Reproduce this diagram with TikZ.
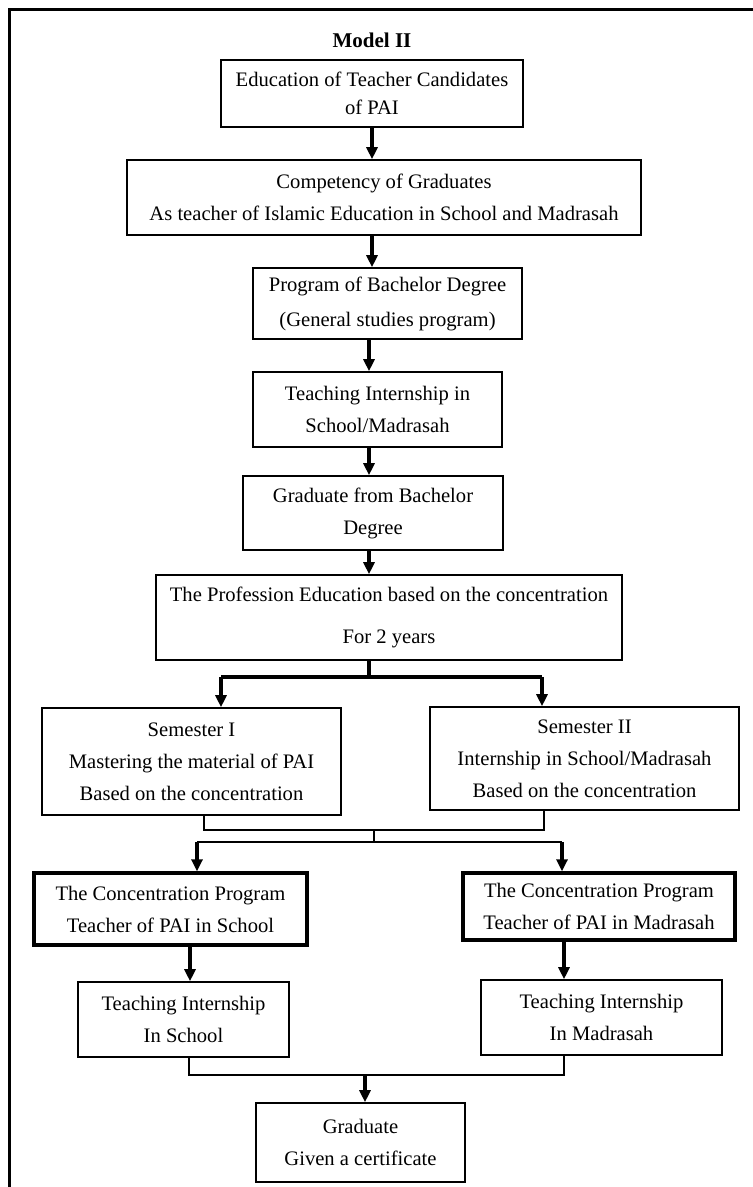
\documentclass[tikz,border=0pt]{standalone}
\usepackage{fontspec}
\setmainfont{Liberation Serif}
\usetikzlibrary{arrows.meta}
\tikzset{
  stagebox/.style={draw, line width=0.8pt, align=center, inner sep=2pt, font=\fontsize{10.3}{16}\selectfont},
  progbox/.style={stagebox, line width=1.7pt},
  flowarrow/.style={line width=1.6pt, -{Triangle[length=6pt,width=5.5pt]}},
  flowline/.style={line width=1.2pt},
}
\begin{document}
\begin{tikzpicture}[x=0.5pt,y=0.5pt,yscale=-1]
        \useasboundingbox (0,0) rectangle (753,1187);
        \clip (0,0) rectangle (753,1187);
        %Shape: Frame
        \draw [line width=1.5pt] (9,1200) -- (9,10) -- (770,10) ;

        % Text Node
        \node [font=\fontsize{10.5}{12}\selectfont\bfseries] (title) at (372,40) {Model II};

        %Shape: Rectangle
        \node [stagebox, minimum width=151pt, minimum height=33.5pt] (edu) at (372,93.5) {Education of Teacher Candidates\\[-2pt]of PAI};
        %Shape: Rectangle
        \node [stagebox, minimum width=257pt, minimum height=37.5pt] (comp) at (384,197.5) {Competency of Graduates\\As teacher of Islamic Education in School and Madrasah};
        %Shape: Rectangle
        \node [stagebox, minimum width=134.5pt, minimum height=35.5pt] (prog) at (387.5,303.5) {Program of Bachelor Degree\\[1.5pt](General studies program)};
        %Shape: Rectangle
        \node [stagebox, minimum width=124.5pt, minimum height=37.5pt] (intern) at (377.5,409.5) {Teaching Internship in\\School/Madrasah};
        %Shape: Rectangle
        \node [stagebox, minimum width=130pt, minimum height=37pt] (grad) at (373,513) {Graduate from Bachelor\\Degree};
        %Shape: Rectangle
        \node [stagebox, minimum width=233pt, minimum height=42.5pt] (prof) at (389,617.5) {The Profession Education based on the concentration\\[5pt]For 2 years};
        %Shape: Rectangle
        \node [stagebox, minimum width=149.5pt, minimum height=53.5pt] (sem1) at (191.5,761.5) {Semester I\\Mastering the material of PAI\\Based on the concentration};
        %Shape: Rectangle
        \node [stagebox, minimum width=154.5pt, minimum height=51.5pt] (sem2) at (584.5,758.5) {Semester II\\Internship in School/Madrasah\\Based on the concentration};
        %Shape: Rectangle
        \node [progbox, minimum width=136.5pt, minimum height=36pt] (concS) at (170.5,909) {The Concentration Program\\Teacher of PAI in School};
        %Shape: Rectangle
        \node [progbox, minimum width=136pt, minimum height=33.5pt] (concM) at (599,906.5) {The Concentration Program\\Teacher of PAI in Madrasah};
        %Shape: Rectangle
        \node [stagebox, minimum width=105.5pt, minimum height=37.5pt] (tiS) at (183.5,1019.5) {Teaching Internship\\In School};
        %Shape: Rectangle
        \node [stagebox, minimum width=120.5pt, minimum height=37.5pt] (tiM) at (601.5,1017.5) {Teaching Internship\\In Madrasah};
        %Shape: Rectangle
        \node [stagebox, minimum width=104.5pt, minimum height=39.5pt] (final) at (360.5,1142.5) {Graduate\\Given a certificate};

        %Straight Lines
        \coordinate (spine) at (369,0);
        \draw [flowarrow] (edu.south) -- (edu.south |- comp.north) ;
        \draw [flowarrow] (comp.south -| edu.south) -- (edu.south |- prog.north) ;
        \draw [flowarrow] (prog.south -| spine) -- (spine |- intern.north) ;
        \draw [flowarrow] (intern.south -| spine) -- (spine |- grad.north) ;
        \draw [flowarrow] (grad.south -| spine) -- (spine |- prof.north) ;

        %Straight Lines (fork to semesters)
        \coordinate (forkL) at (221,677);
        \coordinate (forkR) at (542,677);
        \draw [flowline, line width=1.6pt] (prof.south -| spine) -- (spine |- forkL) ;
        \draw [flowline, line width=1.6pt] (forkL) -- (forkR) ;
        \draw [flowarrow] (forkL) -- (forkL |- sem1.north) ;
        \draw [flowarrow] (forkR) -- (forkR |- sem2.north) ;

        %Straight Lines (semesters to concentration)
        \coordinate (joinL) at (204,830);
        \coordinate (joinR) at (544,830);
        \coordinate (joinM) at (374,830);
        \coordinate (splitL) at (197,842);
        \coordinate (splitR) at (562,842);
        \draw [flowline] (sem1.south -| joinL) -- (joinL) -- (joinR) -- (sem2.south -| joinR) ;
        \draw [flowline] (joinM) -- (joinM |- splitL) ;
        \draw [flowline] (splitL) -- (splitR) ;
        \draw [flowarrow] (splitL) -- (splitL |- concS.north) ;
        \draw [flowarrow] (splitR) -- (splitR |- concM.north) ;

        %Straight Lines (concentration to internship)
        \coordinate (dropL) at (190,0);
        \coordinate (dropR) at (564,0);
        \draw [flowarrow] (concS.south -| dropL) -- (dropL |- tiS.north) ;
        \draw [flowarrow] (concM.south -| dropR) -- (dropR |- tiM.north) ;

        %Straight Lines (internship to graduate)
        \coordinate (endL) at (189,1075);
        \coordinate (endR) at (564,1075);
        \coordinate (endM) at (365,1075);
        \draw [flowline] (tiS.south -| endL) -- (endL) -- (endR) -- (tiM.south -| endR) ;
        \draw [flowarrow] (endM) -- (endM |- final.north) ;
\end{tikzpicture}
\end{document}
